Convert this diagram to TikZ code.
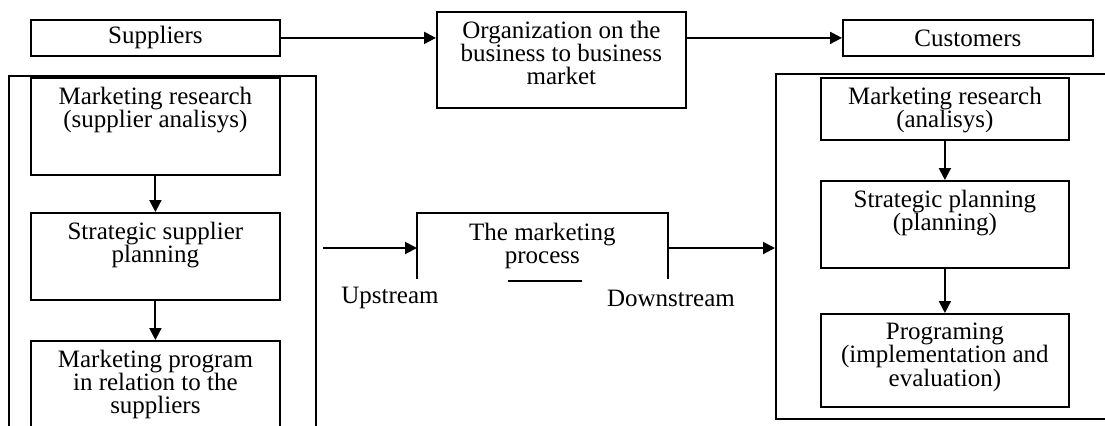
\documentclass[tikz,border=0pt]{standalone}
\usepackage{fontspec}
\setmainfont{Liberation Serif}
\usetikzlibrary{arrows.meta}

\tikzset{
	box/.style={draw, line width=0.9pt, anchor=north west, inner sep=0pt},
	txt/.style={anchor=north, align=center, inner sep=0pt},
	flow/.style={line width=1pt, -{Triangle[length=6pt,width=6pt]}},
}

\begin{document}
\begin{tikzpicture}[x=0.5pt, y=-0.5pt, every node/.style={font=\fontsize{12.5}{11.7}\selectfont}]
		\clip (0,0) rectangle (1105,425);
		\node[box, minimum width=124.5pt, minimum height=18pt] (sup) at (30,19) {Suppliers};
		\node[box, minimum width=124.5pt, minimum height=48pt] (org) at (436,11) {};
		\node[txt] (orgtxt) at ([yshift=-4.7pt]org.north) {Organization on the\\business to business\\market};
		\node[box, minimum width=125pt, minimum height=18pt] (cus) at (842,19) {Customers};

		\node[box, minimum width=153.5pt, minimum height=200pt] (leftframe) at (8,75) {};
		\node[box, minimum width=124.5pt, minimum height=48.5pt] (mr1) at (30,77) {};
		\node[txt] (mr1txt) at ([yshift=-4.7pt]mr1.north) {Marketing research\\(supplier analisys)};
		\node[box, minimum width=124.5pt, minimum height=43.5pt] (ssp) at (30,212) {};
		\node[txt] (ssptxt) at ([yshift=-4.7pt]ssp.north) {Strategic supplier\\planning};
		\node[box, minimum width=124.5pt, minimum height=60pt] (mpsup) at (30,340) {};
		\node[txt] (mpsuptxt) at ([yshift=-4.7pt]mpsup.north) {Marketing program\\in relation to the\\suppliers};

		\node[box, minimum width=200pt, minimum height=172.5pt] (rightframe) at (775,73) {};
		\node[box, minimum width=124pt, minimum height=31pt] (mr2) at (820,77) {};
		\node[txt] (mr2txt) at ([yshift=-4.7pt]mr2.north) {Marketing research\\(analisys)};
		\node[box, minimum width=124pt, minimum height=43.5pt] (sp) at (820,180) {};
		\node[txt] (sptxt) at ([yshift=-4.7pt]sp.north) {Strategic planning\\(planning)};
		\node[box, minimum width=124pt, minimum height=46.5pt] (prog) at (820,313) {};
		\node[txt] (progtxt) at ([yshift=-4.7pt]prog.north) {Programing\\(implementation and\\evaluation)};

		\node[box, draw=none, minimum width=124.5pt, minimum height=32pt] (mp) at (417,213) {};
		\draw[line width=0.9pt] (mp.south west) -- (mp.north west) -- (mp.north east) -- (mp.south east);
		\draw[line width=1.3pt] ([xshift=-17pt,yshift=-1pt]mp.south) -- ++(74,0);
		\node[txt] (mptxt) at ([yshift=-4.7pt]mp.north) {The marketing\\process};
		\node (up) at (390,298) {Upstream};
		\node (down) at (671,298) {Downstream};

		\draw[flow] (sup.east) -- (sup.east -| org.west);
		\draw[flow] (org.east |- cus.west) -- (cus.west);
		\draw[flow] (mr1.south) -- (ssp.north);
		\draw[flow] (ssp.south) -- (mpsup.north);
		\draw[flow] (mr2.south) -- (sp.north);
		\draw[flow] (sp.south) -- (prog.north);
		\coordinate (upin) at (323,248);
		\draw[flow] (upin) -- (upin -| mp.west);
		\draw[flow] (mp.east |- upin) -- (upin -| rightframe.west);
\end{tikzpicture}
\end{document}
